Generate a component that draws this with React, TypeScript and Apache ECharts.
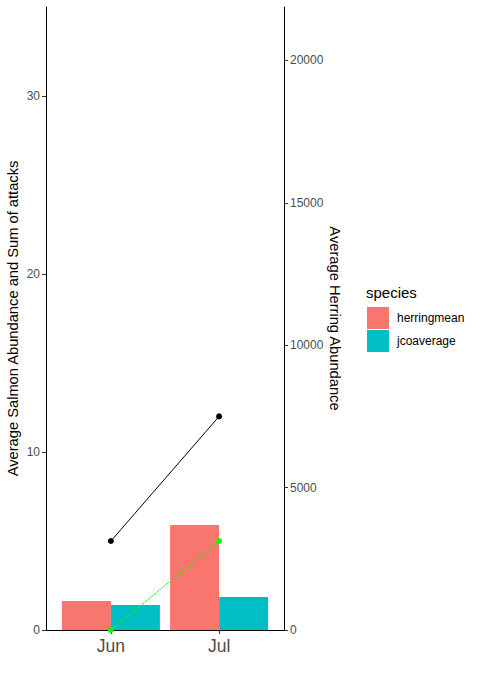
import React, { useEffect, useRef } from "react";
import * as echarts from "echarts";

const months = ["Jun", "Jul"];
const herringmean = [1.63, 5.9];
const jcoaverage = [1.4, 1.85];
const salmonLine = [5, 12];
const attacksLine = [0, 5];
const leftTicks = [0, 10, 20, 30];
const rightTicks = [0, 5000, 10000, 15000, 20000];

export default function App() {
  const ref = useRef<HTMLDivElement>(null);
  useEffect(() => {
    document.body.style.margin = "0";
    const chart = echarts.init(ref.current!, null, { renderer: "svg" });
    const pos = months.map((_, i) => i + 1);
    const font = "Liberation Sans, Arial, sans-serif";
    chart.setOption({
      animation: false,
      textStyle: { fontFamily: font },
      grid: { left: 46, right: 199, top: 7, bottom: 52, containLabel: false },
      xAxis: {
        type: "value",
        min: 0.4,
        max: 2.6,
        splitLine: { show: false },
        axisLine: { show: true, lineStyle: { color: "#000", width: 1 } },
        axisTick: { show: true, customValues: pos, length: 4, lineStyle: { color: "#333" } },
        axisLabel: {
          customValues: pos,
          formatter: (v: number) => months[Math.round(v) - 1] ?? "",
          color: "#4D4D4D",
          fontSize: 17.5,
          margin: 7,
          fontFamily: font,
        },
      },
      yAxis: [
        {
          type: "value",
          min: 0,
          max: 35,
          name: "Average Salmon Abundance and Sum of attacks",
          nameLocation: "middle",
          nameGap: 26,
          nameRotate: 90,
          nameTextStyle: { color: "#000", fontSize: 14.7, fontFamily: font },
          splitLine: { show: false },
          axisLine: { show: true, lineStyle: { color: "#000", width: 1 } },
          axisTick: { show: true, customValues: leftTicks, length: 4, lineStyle: { color: "#333" } },
          axisLabel: { customValues: leftTicks, formatter: (v: number) => String(v), color: "#4D4D4D", fontSize: 12, margin: 6, fontFamily: font },
        },
        {
          type: "value",
          min: 0,
          max: 21875,
          position: "right",
          name: "Average Herring Abundance",
          nameLocation: "middle",
          nameGap: 37,
          nameRotate: -90,
          nameTextStyle: { color: "#000", fontSize: 14.7, fontFamily: font },
          splitLine: { show: false },
          axisLine: { show: true, lineStyle: { color: "#000", width: 1 } },
          axisTick: { show: true, customValues: rightTicks, length: 4, lineStyle: { color: "#333" } },
          axisLabel: { customValues: rightTicks, formatter: (v: number) => String(v), color: "#4D4D4D", fontSize: 12, margin: 6, fontFamily: font },
        },
      ],
      legend: {
        data: ["herringmean", "jcoaverage"],
        orient: "vertical",
        left: 362,
        top: 302,
        itemWidth: 22,
        itemHeight: 22,
        itemGap: 1,
        icon: "rect",
        textStyle: { color: "#000", fontSize: 12, fontFamily: font, padding: [0, 0, 0, 3] },
      },
      graphic: [
        {
          type: "text",
          left: 366,
          top: 285,
          style: { text: "species", fontSize: 15, fill: "#000", fontFamily: font },
        },
      ],
      series: [
        {
          name: "herringmean",
          type: "bar",
          data: herringmean.map((v, i) => [pos[i], v]),
          barWidth: 49,
          barGap: "0%",
          itemStyle: { color: "#F8766D" },
        },
        {
          name: "jcoaverage",
          type: "bar",
          data: jcoaverage.map((v, i) => [pos[i], v]),
          barWidth: 49,
          barGap: "0%",
          itemStyle: { color: "#00BFC4" },
        },
        {
          name: "salmon",
          type: "line",
          data: salmonLine.map((v, i) => [pos[i], v]),
          symbol: "circle",
          symbolSize: 6,
          lineStyle: { color: "#000", width: 1 },
          itemStyle: { color: "#000" },
        },
        {
          name: "attacks",
          type: "line",
          data: attacksLine.map((v, i) => [pos[i], v]),
          symbol: "circle",
          symbolSize: 6,
          lineStyle: { color: "#00FF00", width: 1, type: [3, 1] },
          itemStyle: { color: "#00FF00" },
        },
      ],
    });
    return () => chart.dispose();
  }, []);
  return <div ref={ref} style={{ width: 483, height: 682 }} />;
}
